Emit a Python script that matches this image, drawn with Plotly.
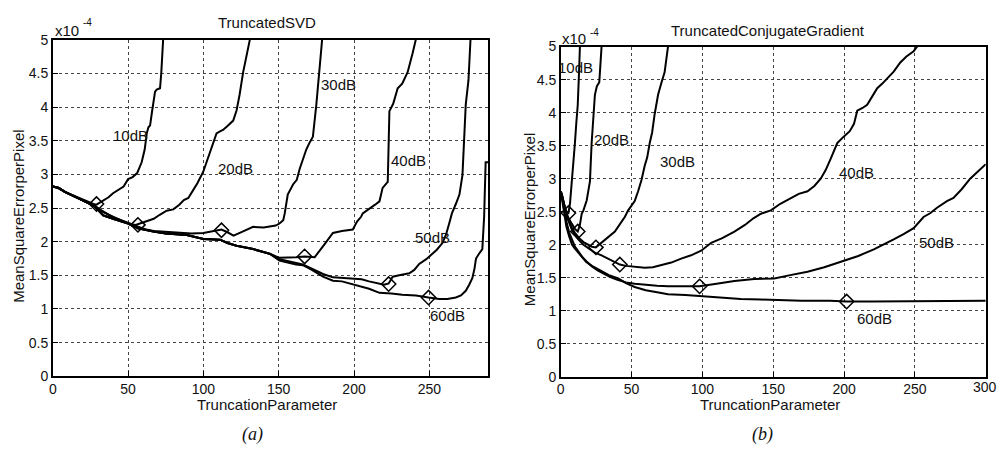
import plotly.graph_objects as go

# ---------------- Data: Truncated SVD (left) ----------------
svd10_x = [0, 4, 8, 12, 16, 20, 24, 27, 29, 31, 34, 37, 40, 43, 47, 50, 53, 56, 59, 61, 62.4, 63.5, 64.6, 66, 67.9, 69, 71.2, 72, 72.9, 73.3, 74]
svd10_y = [2.82, 2.79, 2.74, 2.70, 2.66, 2.62, 2.58, 2.56, 2.55, 2.58, 2.62, 2.66, 2.72, 2.76, 2.82, 2.93, 2.96, 3.02, 3.18, 3.37, 3.61, 3.70, 3.73, 3.95, 4.23, 4.26, 4.28, 4.50, 4.76, 5.0, 5.3]

svd20_x = [0, 4, 8, 12, 16, 20, 24, 28, 32, 36, 40, 44, 48, 52, 55, 56.5, 60, 64, 67, 71, 75.6, 80, 84, 87, 90, 93.3, 96, 99.9, 102, 104.4, 106, 108.7, 111, 113, 116, 119.8, 122, 124, 126.4, 128.5, 130.8, 132]
svd20_y = [2.82, 2.80, 2.74, 2.70, 2.66, 2.62, 2.57, 2.53, 2.47, 2.42, 2.36, 2.33, 2.29, 2.26, 2.25, 2.26, 2.29, 2.31, 2.34, 2.40, 2.46, 2.48, 2.55, 2.62, 2.65, 2.77, 2.87, 3.04, 3.18, 3.32, 3.45, 3.61, 3.64, 3.66, 3.72, 3.80, 3.95, 4.18, 4.52, 4.75, 5.0, 5.3]

svd30_x = [0, 4, 8, 12, 16, 20, 24, 28, 33.5, 40, 45, 50, 56.5, 62, 67, 72, 77.8, 85, 92, 100, 106, 112, 116, 120, 126, 133, 140, 144, 148, 150.5, 153, 154, 156, 159.5, 162, 163.9, 166, 168.3, 170, 172.7, 175, 176.7, 178.9, 180]
svd30_y = [2.82, 2.80, 2.74, 2.70, 2.66, 2.62, 2.58, 2.53, 2.44, 2.37, 2.32, 2.28, 2.22, 2.18, 2.16, 2.15, 2.14, 2.13, 2.12, 2.13, 2.15, 2.18, 2.14, 2.09, 2.15, 2.22, 2.21, 2.23, 2.24, 2.27, 2.32, 2.42, 2.70, 2.85, 2.92, 3.08, 3.22, 3.37, 3.45, 3.56, 4.04, 4.52, 5.0, 5.3]

svd40_x = [0, 4, 8, 12, 16, 20, 24, 28, 33.5, 40, 45, 50, 56.5, 62, 66.8, 75, 88.9, 100, 111, 116, 122, 133, 144, 150.5, 156, 161.5, 167.2, 173.9, 180, 186, 192, 199.2, 202, 204.7, 205.8, 210, 214, 216.9, 219, 222.4, 223.5, 226, 229, 232, 235.6, 238.9, 241, 242]
svd40_y = [2.82, 2.80, 2.74, 2.70, 2.66, 2.62, 2.57, 2.52, 2.39, 2.34, 2.31, 2.27, 2.20, 2.17, 2.15, 2.12, 2.10, 2.04, 2.03, 1.98, 1.94, 1.89, 1.82, 1.76, 1.76, 1.77, 1.78, 1.77, 1.95, 2.13, 2.16, 2.18, 2.30, 2.37, 2.42, 2.48, 2.55, 2.60, 2.80, 2.89, 3.94, 4.05, 4.28, 4.35, 4.52, 4.80, 5.0, 5.3]

svd50_x = [0, 4, 8, 12, 16, 20, 24, 28, 33.5, 40, 45, 50, 56.5, 62, 66.8, 75, 88.9, 100, 111, 116, 122, 133, 144, 150.5, 156, 161.5, 166, 172, 179.4, 186, 192, 199.2, 205, 210, 216.9, 220, 223, 225.7, 230, 236.7, 240, 243.3, 248, 252.1, 255, 258.7, 261, 263.2, 265, 267.6, 270, 272, 274.2, 276, 277, 278]
svd50_y = [2.82, 2.80, 2.74, 2.70, 2.66, 2.62, 2.57, 2.52, 2.39, 2.34, 2.31, 2.27, 2.20, 2.17, 2.15, 2.12, 2.10, 2.04, 2.03, 1.98, 1.94, 1.89, 1.82, 1.74, 1.71, 1.68, 1.66, 1.60, 1.52, 1.47, 1.46, 1.45, 1.44, 1.41, 1.37, 1.36, 1.38, 1.48, 1.50, 1.53, 1.58, 1.67, 1.74, 1.82, 1.88, 1.98, 2.10, 2.27, 2.42, 2.56, 2.70, 2.99, 4.04, 4.40, 5.0, 5.3]

svd60_x = [0, 4, 8, 12, 16, 20, 24, 28, 33.5, 40, 45, 50, 56.5, 62, 66.8, 75, 88.9, 100, 111, 116, 122, 133, 144, 150.5, 156, 161.5, 166, 172, 179.4, 186, 192, 199.2, 205, 210, 216.9, 225, 232, 241.1, 249.5, 256.6, 262, 267.6, 271, 274.2, 276.5, 278.6, 280, 281, 283, 285.2, 286.4, 287.4, 289]
svd60_y = [2.82, 2.80, 2.74, 2.70, 2.66, 2.62, 2.57, 2.52, 2.39, 2.34, 2.31, 2.27, 2.20, 2.17, 2.15, 2.12, 2.10, 2.04, 2.03, 1.98, 1.94, 1.89, 1.82, 1.72, 1.69, 1.66, 1.65, 1.58, 1.48, 1.42, 1.41, 1.37, 1.33, 1.30, 1.24, 1.23, 1.21, 1.20, 1.17, 1.15, 1.15, 1.17, 1.20, 1.27, 1.36, 1.46, 1.60, 1.75, 1.82, 1.89, 2.37, 3.18, 3.18]

svd_min_x = [29, 56.5, 112, 167.2, 223, 249.5]
svd_min_y = [2.56, 2.25, 2.17, 1.78, 1.37, 1.17]

svd_labels = ["10dB", "20dB", "30dB", "40dB", "50dB", "60dB"]
svd_label_x = [51.5, 121.4, 190, 236.3, 251.8, 262]
svd_label_y = [3.58, 3.09, 4.34, 3.21, 2.06, 0.90]

# ---------------- Data: Truncated Conjugate Gradient (right) ----------------
cg10_x = [0, 1, 2, 3, 4.2, 5.4, 6.5, 7.7, 9, 10, 11, 12, 12.9, 13.6, 14]
cg10_y = [2.81, 2.75, 2.65, 2.55, 2.49, 2.48, 2.62, 2.90, 3.25, 3.54, 3.85, 4.12, 4.61, 5.0, 5.3]

cg20_x = [0, 2, 4, 6, 8, 10, 12, 13.5, 14.8, 16, 18.3, 20.6, 21.8, 23, 24.1, 25.5, 27.2, 28.8, 29.2]
cg20_y = [2.81, 2.62, 2.48, 2.38, 2.30, 2.24, 2.20, 2.30, 2.47, 2.52, 2.67, 2.96, 3.54, 3.90, 4.27, 4.40, 4.46, 5.0, 5.3]

cg30_x = [0, 2, 4, 6, 8, 10, 13, 16, 19, 22, 24.8, 28.8, 33, 38.2, 42, 45.2, 47.6, 50, 52.2, 54.6, 57, 59.3, 61, 62.8, 64.5, 66.3, 68.7, 71, 73.3, 75.7, 76.2]
cg30_y = [2.81, 2.62, 2.46, 2.35, 2.25, 2.18, 2.10, 2.04, 2.00, 1.97, 1.96, 2.03, 2.10, 2.20, 2.32, 2.42, 2.52, 2.60, 2.66, 2.81, 2.98, 3.20, 3.32, 3.54, 3.70, 3.98, 4.27, 4.45, 4.61, 5.0, 5.3]

cg40_x = [0, 2, 4, 6, 8, 12.4, 16, 20, 24, 28.8, 34, 38, 41.7, 46, 52.2, 59.3, 65, 71, 78, 85, 92, 99.1, 106.2, 114, 122.6, 130, 136, 141.3, 148.3, 155, 162.4, 168, 174.2, 179, 183.5, 187, 190.5, 195.2, 199.9, 204, 207, 209.3, 213, 216.3, 220, 223.4, 227, 230.4, 235, 239.7, 244, 249.1, 251.5, 252]
cg40_y = [2.81, 2.62, 2.45, 2.33, 2.22, 2.08, 2.00, 1.94, 1.88, 1.84, 1.78, 1.74, 1.70, 1.68, 1.67, 1.65, 1.66, 1.69, 1.73, 1.79, 1.84, 1.91, 2.03, 2.10, 2.20, 2.30, 2.40, 2.47, 2.52, 2.62, 2.71, 2.77, 2.81, 2.89, 3.00, 3.13, 3.30, 3.54, 3.64, 3.72, 3.83, 4.03, 4.07, 4.12, 4.25, 4.37, 4.44, 4.51, 4.62, 4.76, 4.85, 4.93, 5.0, 5.3]

cg50_x = [0, 2, 4, 6, 8, 10, 12.4, 15, 18, 22, 26, 30, 35, 40, 46, 52.2, 60, 68, 75.7, 85, 98, 110, 122.6, 136.6, 150.7, 162, 174.2, 186, 197.6, 210, 221, 228, 235, 242, 249.1, 256.1, 261, 265.6, 272.6, 277.2, 283, 289, 294, 299.5, 300]
cg50_y = [2.81, 2.55, 2.35, 2.18, 2.06, 1.97, 1.90, 1.82, 1.75, 1.67, 1.61, 1.56, 1.51, 1.47, 1.43, 1.41, 1.39, 1.38, 1.37, 1.37, 1.37, 1.41, 1.45, 1.48, 1.49, 1.54, 1.59, 1.66, 1.74, 1.83, 1.93, 2.00, 2.08, 2.16, 2.25, 2.42, 2.48, 2.56, 2.66, 2.71, 2.84, 3.00, 3.10, 3.20, 3.22]

cg60_x = [0, 2, 4, 6, 8, 10, 12.4, 15, 18, 22, 28.8, 34, 40.6, 46, 52.2, 60, 68, 75.7, 88, 99.1, 115, 127, 141.3, 150.7, 170, 190, 201.8, 220, 240, 260, 280, 300]
cg60_y = [2.81, 2.50, 2.27, 2.12, 2.00, 1.94, 1.88, 1.80, 1.74, 1.68, 1.60, 1.54, 1.49, 1.42, 1.36, 1.31, 1.28, 1.25, 1.24, 1.22, 1.20, 1.18, 1.17, 1.16, 1.15, 1.15, 1.14, 1.14, 1.14, 1.14, 1.14, 1.15]

cg_min_x = [5.4, 12, 24.8, 41.7, 98, 201.8]
cg_min_y = [2.48, 2.20, 1.96, 1.70, 1.37, 1.14]

cg_labels = ["10dB", "20dB", "30dB", "40dB", "50dB", "60dB"]
cg_label_x = [10.5, 35.9, 82.3, 208.5, 265.1, 221.5]
cg_label_y = [4.68, 3.60, 3.26, 3.09, 2.03, 0.88]

y_ticks = [0, 0.5, 1, 1.5, 2, 2.5, 3, 3.5, 4, 4.5, 5]
y_ticktext = ["0", "0.5", "1", "1.5", "2", "2.5", "3", "3.5", "4", "4.5", "5"]
svd_xticks = [0, 50, 100, 150, 200, 250]
cg_xticks = [0, 50, 100, 150, 200, 250, 300]
cg_xticktext = ["0", "50", "100", "150", "200", "250", ""]
cg_last_tick = "300"

# ---------------- Figure ----------------
W, H = 998, 454
FONT = "Liberation Sans, Arial, sans-serif"
line_style = dict(color="black", width=2)

fig = go.Figure()

for xs, ys in [(svd10_x, svd10_y), (svd20_x, svd20_y), (svd30_x, svd30_y),
               (svd40_x, svd40_y), (svd50_x, svd50_y), (svd60_x, svd60_y)]:
    fig.add_trace(go.Scatter(x=xs, y=ys, mode="lines", line=line_style,
                             xaxis="x", yaxis="y", showlegend=False, hoverinfo="skip"))
fig.add_trace(go.Scatter(x=svd_min_x, y=svd_min_y, mode="markers",
                         marker=dict(symbol="diamond-open", size=11, color="black", line=dict(width=1.5, color="black")),
                         xaxis="x", yaxis="y", showlegend=False))

for xs, ys in [(cg10_x, cg10_y), (cg20_x, cg20_y), (cg30_x, cg30_y),
               (cg40_x, cg40_y), (cg50_x, cg50_y), (cg60_x, cg60_y)]:
    fig.add_trace(go.Scatter(x=xs, y=ys, mode="lines", line=line_style,
                             xaxis="x2", yaxis="y2", showlegend=False, hoverinfo="skip"))
fig.add_trace(go.Scatter(x=cg_min_x, y=cg_min_y, mode="markers",
                         marker=dict(symbol="diamond-open", size=11, color="black", line=dict(width=1.5, color="black")),
                         xaxis="x2", yaxis="y2", showlegend=False))

def px(v):
    return v / W

def py(v):
    return 1 - v / H

TICKFONT = dict(family=FONT, size=14, color="#111")
axis_common = dict(showline=True, linecolor="black", linewidth=1.5, mirror=True,
                   ticks="inside", ticklen=5, tickcolor="black",
                   showgrid=True, gridcolor="#444", griddash="dot", gridwidth=1,
                   zeroline=False, tickfont=TICKFONT)

fig.update_layout(
    width=W, height=H,
    margin=dict(l=0, r=0, t=0, b=0),
    paper_bgcolor="white", plot_bgcolor="white",
    xaxis=dict(domain=[px(49), px(486)], range=[0, 289], tickvals=svd_xticks,
               anchor="y", ticklabelstandoff=-1, **axis_common),
    yaxis=dict(domain=[py(381.7), py(33)], range=[0, 5], tickvals=y_ticks, ticktext=y_ticktext,
               anchor="x", **axis_common),
    xaxis2=dict(domain=[px(559), px(985.7)], range=[0, 300], tickvals=cg_xticks, ticktext=cg_xticktext,
                anchor="y2", ticklabelstandoff=-1, **axis_common),
    yaxis2=dict(domain=[py(382.3), py(40)], range=[0, 5], tickvals=y_ticks, ticktext=y_ticktext,
                anchor="x2", **axis_common),
)

ann = []
for t, x, y in zip(svd_labels, svd_label_x, svd_label_y):
    ann.append(dict(text=t, x=x, y=y, xref="x", yref="y", showarrow=False,
                    font=dict(family=FONT, size=15, color="#111")))
for t, x, y in zip(cg_labels, cg_label_x, cg_label_y):
    ann.append(dict(text=t, x=x, y=y, xref="x2", yref="y2", showarrow=False,
                    font=dict(family=FONT, size=15, color="#111")))

def paper_text(text, x, y, size=15, family=FONT, angle=0, xanchor="center"):
    return dict(text=text, x=px(x), y=py(y), xref="paper", yref="paper", showarrow=False,
                textangle=angle, xanchor=xanchor, yanchor="middle", borderpad=0,
                font=dict(family=family, size=size, color="#111"))

ann += [
    paper_text("TruncatedSVD", 264.5, 15),
    paper_text("TruncatedConjugateGradient", 766.7, 23),
    paper_text("TruncationParameter", 264.5, 410.5),
    paper_text("TruncationParameter", 769, 410.5),
    paper_text("MeanSquareErrorperPixel", 15, 215.5, angle=-90),
    paper_text("MeanSquareErrorperPixel", 527, 219, angle=-90),
    paper_text("x10", 50, 23, xanchor="left"),
    paper_text("-4", 78, 15, size=10, xanchor="left"),
    paper_text("x10", 559, 32, xanchor="left"),
    paper_text("-4", 587, 25, size=10, xanchor="left"),
    paper_text(cg_last_tick, 997.5, 393, size=14, xanchor="right"),
    paper_text("<i>(a)</i>", 250, 442, size=18, family="Liberation Serif, Times New Roman, serif"),
    paper_text("<i>(b)</i>", 762, 442, size=18, family="Liberation Serif, Times New Roman, serif"),
]
fig.update_layout(annotations=ann)

fig.write_html("out.html")
